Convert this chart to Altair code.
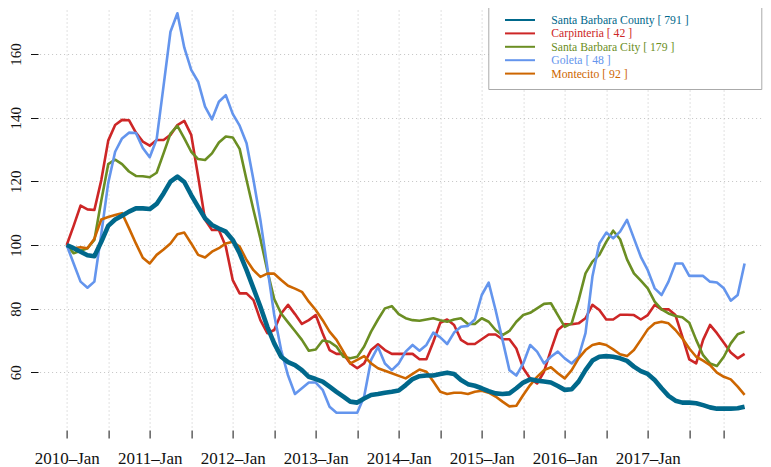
import altair as alt
import pandas as pd

# ---------------- data (monthly index, 2010-Jan = 100) ----------------
series_names = ["Santa Barbara County", "Carpinteria", "Santa Barbara City", "Goleta", "Montecito"]
series_counts = [791, 42, 179, 48, 92]
series_colors = ["#00688B", "#CD2626", "#6B8E23", "#6495ED", "#CD6600"]

county = [100, 99, 97.9, 96.8, 96.5, 101, 106, 108, 109.2, 110.5,
          111.5, 111.5, 111.3, 112.9, 116.2, 119.9, 121.5, 119.8, 115.7, 112,
          108.4, 106.3, 105.2, 104.2, 101.6, 97.4, 92.1, 86.4, 80.6, 74.3,
          69.1, 64.9, 63.2, 62.3, 60.7, 58.6, 57.9, 57.1, 55.5, 53.9,
          52.4, 50.8, 50.5, 51.8, 52.9, 53.2, 53.6, 53.9, 54.3, 56,
          57.9, 58.8, 59, 59, 59.5, 59.9, 59.5, 57.6, 56.3, 55.8,
          55, 54.1, 53.4, 53.2, 53.4, 55, 56.8, 57.8, 57.4, 57.1,
          56.8, 55.7, 54.5, 54.7, 57.1, 60.7, 63.7, 64.9, 65.1, 64.9,
          64.4, 63.6, 61.8, 60.4, 59.5, 57.6, 55, 52.6, 51.1, 50.5,
          50.5, 50.3, 49.7, 49, 48.6, 48.6, 48.6, 48.7, 49.2]

carpinteria = [100, 106, 112.4, 111.2, 111, 120.4, 132.8, 137.7, 139.3, 139.2,
               135.3, 132.5, 131.2, 133, 133, 134.6, 137.7, 139, 134.6, 121.5,
               107.9, 104.7, 104.7, 99.5, 89, 84.8, 84.8, 82.7, 76.4, 72.3,
               73.3, 78.5, 81.2, 78.3, 75.2, 76.4, 78, 72.3, 67, 65.8,
               65.8, 62.8, 61.3, 62.8, 67, 68.8, 67, 65.8, 65.8, 65.8,
               65.8, 64.1, 64.1, 69.6, 75.6, 76.6, 74.9, 70.2, 68.9, 68.9,
               70.4, 71.9, 71.9, 70.4, 70.4, 67.5, 61.3, 58.1, 56.5, 60.2,
               67, 73.3, 75.1, 75.1, 75.4, 77, 81.2, 79.6, 76.6, 76.6,
               78.1, 78.1, 78, 76.6, 78, 81.2, 79.8, 79.8, 78, 71.2,
               64.1, 62.8, 70.2, 74.9, 72.3, 69.3, 66.2, 64.4, 65.8]

sb_city = [100, 97.4, 98.2, 99, 101.6, 114, 125.4, 126.8, 125.4, 123.1,
           121.7, 121.6, 121.3, 122.7, 128.8, 135, 137.4, 133.5, 129.3, 127,
           126.7, 128.8, 132.2, 134.1, 133.8, 130.2, 120.4, 111, 102, 92,
           83, 78.5, 75.7, 73, 70.2, 66.8, 67.2, 70, 69.6, 68.1,
           64.9, 64.4, 64.9, 68.1, 72.8, 76.6, 80.1, 80.8, 78.3, 77,
           76.4, 76.2, 76.6, 77, 76.4, 75.9, 76.6, 77, 75.2, 75.2,
           77, 75.9, 73.3, 71.7, 73, 75.9, 78, 78.7, 80.1, 81.5,
           81.7, 78, 74.3, 75.4, 82.7, 91.1, 94.8, 96.9, 101, 104.5,
           101.8, 95.5, 91.1, 88.8, 86.4, 82.2, 79.8, 78.5, 77.7, 77.3,
           75.6, 70.2, 65.4, 62.8, 62, 64.9, 69.1, 72, 72.8]

goleta = [100, 94.2, 88.5, 86.6, 88.5, 103.5, 119.5, 129.3, 133.5, 135.3,
          135.2, 130.5, 127.6, 133.2, 150, 167, 172.8, 162, 155, 151.3,
          143.5, 139.5, 145, 147.1, 141.2, 137.5, 132, 120.4, 107.9, 93,
          78, 67, 59, 53.2, 55, 56.8, 56.8, 54.5, 49.2, 47.3,
          47.3, 47.3, 47.3, 52.4, 63.9, 68, 62.8, 60.7, 62.8, 66.5,
          68.6, 66.8, 68.6, 72.5, 71, 68.9, 72.5, 74.3, 74.6, 76.6,
          84.3, 88.2, 79.6, 70.2, 60.7, 59, 62.8, 68.6, 66.5, 62.8,
          64.9, 66.5, 64.4, 62.8, 64.9, 72.3, 90.1, 100.5, 103.9, 102.1,
          104.2, 107.9, 102.1, 96.3, 92.1, 86.4, 84.3, 88.5, 94.2, 94.2,
          90.3, 90.3, 90.3, 88.5, 88.2, 86.4, 82.5, 84.3, 94.2]

montecito = [100, 99, 99.3, 99, 102, 108, 108.8, 109.4, 110, 105.3,
             100.5, 96, 94.2, 96.9, 98.6, 100.5, 103.4, 103.9, 100.5, 96.9,
             96.1, 97.9, 99, 100.5, 101, 99.5, 95.3, 92.1, 90, 91,
             91, 89, 87.2, 86.3, 85.3, 82.2, 79.6, 76.4, 72.8, 70.2,
             66.5, 62.8, 63.9, 65.1, 62.8, 61.3, 60.5, 59.7, 58.9, 58.1,
             59.5, 60.9, 60.2, 57.1, 53.9, 53.2, 53.6, 53.6, 53.2, 53.9,
             54.2, 53.6, 52.4, 50.8, 49.3, 49.5, 52.9, 56, 58.6, 60.7,
             61.6, 59.7, 58.1, 60.7, 64.4, 67, 68.6, 69.1, 68.6, 67.2,
             65.7, 65.1, 67, 70.2, 73.5, 75.4, 75.9, 75.4, 73.3, 70.7,
             67.5, 64.9, 63.7, 62.3, 59.9, 58.6, 57.8, 55.5, 52.9]

tick_months = [0, 6, 12, 18, 24, 30, 36, 42, 48, 54, 60, 66, 72, 78, 84, 90, 95]
tick_labels = ["2010\u2013Jan", "", "2011\u2013Jan", "", "2012\u2013Jan", "", "2013\u2013Jan", "",
               "2014\u2013Jan", "", "2015\u2013Jan", "", "2016\u2013Jan", "", "2017\u2013Jan", "", ""]
y_ticks = [60, 80, 100, 120, 140, 160]

# ---------------- table ----------------
labels = [f"{n} [ {c} ]" for n, c in zip(series_names, series_counts)]
values = [county, carpinteria, sb_city, goleta, montecito]
rows = []
for lab, vals in zip(labels, values):
    for m, v in enumerate(vals):
        rows.append({"month": m, "value": v, "series": lab})
df = pd.DataFrame(rows)

FONT = "Liberation Serif"
labels_js = "[" + ",".join(f"'{l}'" for l in labels) + "]"
colors_js = "[" + ",".join(f"'{c}'" for c in series_colors) + "]"
ticks_js = "[" + ",".join(str(t) for t in tick_months) + "]"
ticklab_js = "[" + ",".join(f"'{t}'" for t in tick_labels) + "]"
pad_txt = "\u00a0" * 22 + "\u200b"

x_enc = alt.X("month:Q",
              scale=alt.Scale(domain=[-3.92, 100.66], nice=False, zero=False),
              axis=alt.Axis(values=tick_months, labelExpr=f"{ticklab_js}[indexof({ticks_js}, datum.value)]",
                            title=None, domain=False, tickSize=8, offset=1.3, labelPadding=12.8,
                            labelFont=FONT, labelFontSize=17, labelColor="#111111", tickColor="#111111",
                            labelOverlap=False, labelFlush=False, labelBound=False,
                            grid=True, gridDash=[1, 3], gridColor="#c4c4c4"))
y_enc = alt.Y("value:Q",
              scale=alt.Scale(domain=[42.3, 173.83], nice=False, zero=False),
              axis=alt.Axis(values=y_ticks, title=None, domain=False, tickSize=7.5, offset=1.6,
                            labelAngle=270, labelAlign="center", labelBaseline="bottom", labelPadding=7.2,
                            labelFont=FONT, labelFontSize=15, labelColor="#111111", tickColor="#111111",
                            grid=True, gridDash=[1, 3], gridColor="#c4c4c4"))
color_enc = alt.Color("series:N",
                      scale=alt.Scale(domain=labels, range=series_colors),
                      legend=alt.Legend(orient="none", legendX=448.7, legendY=-4, title=None,
                                        direction="vertical",
                                        fillColor="white", strokeColor="#aaaaaa", padding=8,
                                        symbolType="M-3,0H3", symbolSize=100, symbolStrokeWidth=2,
                                        symbolOffset=17.7, labelOffset=25.3, rowPadding=0.4,
                                        labelFont=FONT, labelFontSize=11.7, labelLimit=320,
                                        labelExpr=f"datum.label + '{pad_txt}'",
                                        labelColor={"expr": f"{colors_js}[indexof({labels_js}, datum.value)]"}))

base = alt.Chart(df).encode(x=x_enc, y=y_enc, color=color_enc)
thin = base.transform_filter(alt.datum.series != labels[0]).mark_line(strokeWidth=2.6, strokeJoin="round")
thick = base.transform_filter(alt.datum.series == labels[0]).mark_line(strokeWidth=4.6, strokeJoin="round")

chart = alt.layer(thin, thick).properties(
    width=723.4, height=418.7,
    padding={"left": 31.6, "top": 2, "right": 0, "bottom": 38.3},
    autosize=alt.AutoSizeParams(type="none"),
).configure(font=FONT).configure_view(strokeWidth=0)

chart.save("out.html", embed_options={"renderer": "svg", "actions": False})
